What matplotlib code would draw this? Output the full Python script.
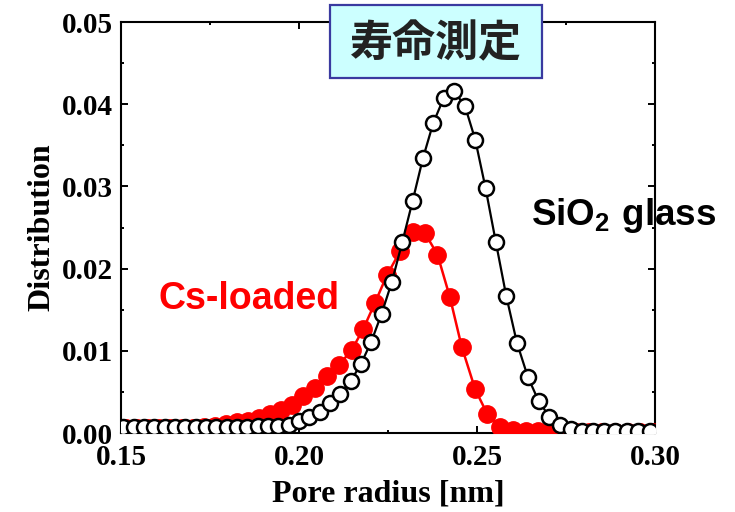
import matplotlib
matplotlib.use("Agg")
import matplotlib.pyplot as plt
from matplotlib.patches import Rectangle
from matplotlib.ticker import MultipleLocator, FormatStrFormatter

plt.rcParams['mathtext.fontset'] = 'custom'
plt.rcParams['mathtext.bf'] = 'Liberation Sans:bold'
plt.rcParams['mathtext.rm'] = 'Liberation Sans:bold'

# SiO2 glass (open circles)
sio2_r = [0.1507, 0.1536, 0.1565, 0.1594, 0.1623, 0.1652, 0.1681, 0.1710, 0.1739, 0.1768,
          0.1797, 0.1826, 0.1855, 0.1884, 0.1913, 0.1942, 0.1971, 0.2000, 0.2029, 0.2058,
          0.2087, 0.2116, 0.2145, 0.2174, 0.2203, 0.2232, 0.2261, 0.2290, 0.2319, 0.2348,
          0.2377, 0.2406, 0.2435, 0.2466, 0.2495, 0.2524, 0.2553, 0.2582, 0.2612, 0.2643,
          0.2673, 0.2703, 0.2733, 0.2764, 0.2795, 0.2826, 0.2857, 0.2889, 0.2921, 0.2953,
          0.2986]
sio2_d = [0.0007, 0.0007, 0.0007, 0.0007, 0.0007, 0.0007, 0.0007, 0.0007, 0.0007, 0.0007,
          0.0007, 0.0007, 0.0007, 0.0008, 0.0008, 0.0009, 0.0010, 0.0014, 0.0019, 0.0026,
          0.0036, 0.0048, 0.0063, 0.0084, 0.0111, 0.0145, 0.0184, 0.0232, 0.0282, 0.0334,
          0.0377, 0.0407, 0.0416, 0.0398, 0.0357, 0.0298, 0.0232, 0.0167, 0.0110, 0.0068,
          0.0039, 0.0020, 0.0010, 0.0005, 0.0003, 0.0003, 0.0003, 0.0003, 0.0003, 0.0003,
          0.0003]

# Cs-loaded (filled red circles)
cs_r = [0.1515, 0.1546, 0.1577, 0.1608, 0.1639, 0.1670, 0.1701, 0.1732, 0.1763, 0.1794,
        0.1825, 0.1856, 0.1887, 0.1918, 0.1949, 0.1980, 0.2012, 0.2045, 0.2080, 0.2113,
        0.2148, 0.2180, 0.2213, 0.2247, 0.2284, 0.2321, 0.2354, 0.2389, 0.2424, 0.2457,
        0.2495, 0.2529, 0.2565, 0.2602, 0.2638, 0.2672, 0.2707, 0.2743, 0.2779, 0.2815,
        0.2851, 0.2887, 0.2923, 0.2959, 0.2995]
cs_d = [0.0006, 0.0006, 0.0006, 0.0006, 0.0006, 0.0006, 0.0006, 0.0007, 0.0009, 0.0011,
        0.0013, 0.0015, 0.0018, 0.0023, 0.0028, 0.0034, 0.0045, 0.0055, 0.0069, 0.0083,
        0.0101, 0.0126, 0.0158, 0.0192, 0.0221, 0.0244, 0.0243, 0.0217, 0.0165, 0.0105,
        0.0053, 0.0023, 0.0007, 0.0004, 0.0003, 0.0002, 0.0002, 0.0001, 0.0001, 0.0001,
        0.0001, 0.0001, 0.0001, 0.0001, 0.0001]

fig = plt.figure(figsize=(7.35, 5.12), dpi=100)
ax = fig.add_axes([121/735, 1-433/512, (655-121)/735, (433-22)/512])

ax.plot(cs_r, cs_d, color='#ff0000', lw=1.8, marker='o', ms=12.5,
        mfc='#ff0000', mec='#ff0000', zorder=3)
ax.plot(sio2_r, sio2_d, color='black', lw=1.6, marker='o', ms=10.8,
        mfc='white', mec='black', mew=1.8, zorder=4)

ax.set_xlim(0.15, 0.30)
ax.set_ylim(0.0, 0.05)
ax.xaxis.set_major_locator(MultipleLocator(0.05))
ax.xaxis.set_minor_locator(MultipleLocator(0.025))
ax.yaxis.set_major_locator(MultipleLocator(0.01))
ax.yaxis.set_minor_locator(MultipleLocator(0.005))
ax.xaxis.set_major_formatter(FormatStrFormatter('%.2f'))
ax.yaxis.set_major_formatter(FormatStrFormatter('%.2f'))
ax.tick_params(which='both', direction='in', top=True, right=True, width=1.4)
ax.tick_params(which='major', length=5)
ax.tick_params(which='minor', length=2.5)
ax.tick_params(axis='x', which='major', pad=8)
ax.tick_params(axis='y', which='major', pad=6)
for s in ax.spines.values():
    s.set_linewidth(1.5)

serif = {'family': 'Liberation Serif', 'weight': 'bold'}
for lab in ax.get_xticklabels() + ax.get_yticklabels():
    lab.set_fontfamily('Liberation Serif')
    lab.set_fontweight('bold')
    lab.set_fontsize(21)

ax.set_xlabel('Pore radius [nm]', fontdict=serif, fontsize=23, labelpad=6)
ax.set_ylabel('Distribution', fontdict=serif, fontsize=23, labelpad=4)

ax.text(0.2652, 0.0265, r'$\mathbf{SiO_2\ glass}$', fontsize=26.5, color='black',
        ha='left', va='center')
ax.text(0.1604, 0.0163, 'Cs-loaded', fontsize=27, color='#ff0000',
        family='Liberation Sans', weight='bold', ha='left', va='center')

box = Rectangle((330/735, 1-78/512), 212/735, 73/512, transform=fig.transFigure,
                facecolor='#ccffff', edgecolor='#3a3aa0', lw=1.6, zorder=10)
fig.patches.append(box)
fig.text(436/735, 1-43/512, '寿命測定', family=['Noto Sans CJK JP', 'DejaVu Sans'],
         weight='bold', fontsize=31, ha='center', va='center', color='#222222', zorder=11)

fig.savefig('out.png', dpi=100)
